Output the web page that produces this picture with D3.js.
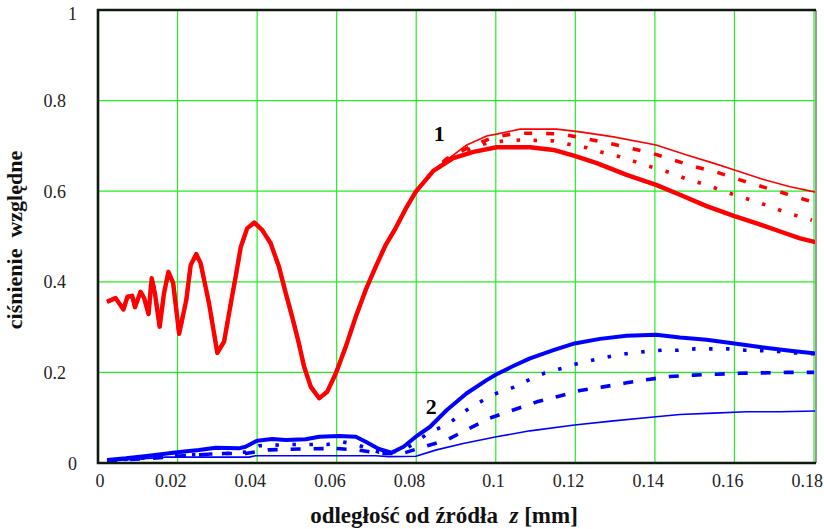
<!DOCTYPE html>
<html>
<head>
<meta charset="utf-8">
<script src="https://cdn.jsdelivr.net/npm/d3@7"></script>
<style>
  body { margin: 0; background: #fff; }
  svg text { font-family: "Liberation Serif", "Times New Roman", "DejaVu Serif", serif !important; }
</style>
</head>
<body>
<div id="chart-container"></div>
<script>
// z [mm] vs relative pressure; curve family 1 (red) and family 2 (blue)
let xTicks = [0, 0.02, 0.04, 0.06, 0.08, 0.1, 0.12, 0.14, 0.16, 0.18];
let yTicks = [0, 0.2, 0.4, 0.6, 0.8, 1];

// part of family 1 where all four variants coincide
let red1Shared = [
  [0.0023, 0.356], [0.0044, 0.364], [0.0064, 0.339], [0.0074, 0.367], [0.0086, 0.369],
  [0.0093, 0.344], [0.0107, 0.378], [0.0116, 0.364], [0.0127, 0.329], [0.0135, 0.408],
  [0.0143, 0.375], [0.0155, 0.301], [0.0166, 0.375], [0.0177, 0.422], [0.0189, 0.397],
  [0.0204, 0.285], [0.0222, 0.360], [0.0233, 0.437], [0.0247, 0.461], [0.0258, 0.441],
  [0.0279, 0.353], [0.0300, 0.243], [0.0317, 0.268], [0.0334, 0.353], [0.0346, 0.411],
  [0.0359, 0.477], [0.0375, 0.518], [0.0393, 0.531], [0.0413, 0.514], [0.0434, 0.485],
  [0.0455, 0.433], [0.0472, 0.375], [0.0488, 0.323], [0.0505, 0.264], [0.0518, 0.213],
  [0.0535, 0.168], [0.0556, 0.143], [0.0576, 0.157], [0.0598, 0.198], [0.0623, 0.257],
  [0.0648, 0.323], [0.0673, 0.382], [0.0698, 0.433], [0.0723, 0.481], [0.0748, 0.518],
  [0.0776, 0.565], [0.0799, 0.599], [0.0843, 0.645]
];
let red1Thick = [
  [0.0893, 0.673], [0.0944, 0.687], [0.1002, 0.697], [0.1086, 0.697], [0.1145, 0.691],
  [0.1198, 0.678], [0.1254, 0.662], [0.1329, 0.636], [0.1403, 0.614], [0.1463, 0.592],
  [0.1530, 0.567], [0.1600, 0.545], [0.1656, 0.529], [0.1715, 0.511], [0.1765, 0.496],
  [0.1810, 0.486]
];
let red1Dot = [
  [0.0902, 0.680], [0.0944, 0.697], [0.0977, 0.706], [0.1019, 0.711], [0.1061, 0.713],
  [0.1145, 0.711], [0.1187, 0.703], [0.1229, 0.696], [0.1275, 0.684], [0.1312, 0.676],
  [0.1354, 0.664], [0.1396, 0.652], [0.1438, 0.641], [0.1480, 0.627], [0.1522, 0.616],
  [0.1564, 0.603], [0.1606, 0.590], [0.1648, 0.579], [0.1690, 0.566], [0.1732, 0.552],
  [0.1773, 0.542], [0.1795, 0.536]
];
let red1Dash = [
  [0.0877, 0.672], [0.0935, 0.698], [0.0994, 0.719], [0.1053, 0.728], [0.1111, 0.728],
  [0.1166, 0.726], [0.1220, 0.717], [0.1279, 0.707], [0.1333, 0.696], [0.1392, 0.684],
  [0.1446, 0.669], [0.1501, 0.654], [0.1559, 0.641], [0.1614, 0.625], [0.1673, 0.609],
  [0.1727, 0.595], [0.1790, 0.578], [0.1805, 0.574]
];
let red1Thin = [
  [0.0877, 0.669], [0.0927, 0.702], [0.0977, 0.722], [0.1002, 0.726], [0.1061, 0.737],
  [0.1153, 0.737], [0.1212, 0.731], [0.1296, 0.720], [0.1403, 0.702], [0.1480, 0.680],
  [0.1547, 0.662], [0.1600, 0.647], [0.1673, 0.626], [0.1740, 0.610], [0.1798, 0.599],
  [0.1815, 0.596]
];

let blue2Thick = [
  [0.0023, 0.0066], [0.0070, 0.0103], [0.0128, 0.0162], [0.0199, 0.0236], [0.0254, 0.0287],
  [0.0296, 0.0338], [0.0354, 0.0324], [0.0371, 0.036], [0.0400, 0.0493], [0.0438, 0.053],
  [0.0472, 0.0508], [0.0522, 0.0523], [0.0556, 0.0581], [0.0606, 0.0596], [0.0648, 0.0581],
  [0.0673, 0.047], [0.0706, 0.0309], [0.0738, 0.0227], [0.0768, 0.036], [0.0799, 0.058],
  [0.0835, 0.080], [0.0877, 0.117], [0.0927, 0.154], [0.0977, 0.183], [0.1002, 0.196],
  [0.1044, 0.214], [0.1086, 0.231], [0.1145, 0.249], [0.1198, 0.264], [0.1262, 0.274],
  [0.1329, 0.281], [0.1403, 0.283], [0.1463, 0.277], [0.1530, 0.272], [0.1600, 0.264],
  [0.1673, 0.255], [0.1740, 0.248], [0.1815, 0.241]
];
let blue2Dot = [
  [0.0023, 0.005], [0.0128, 0.012], [0.0199, 0.017], [0.0254, 0.019], [0.0321, 0.021],
  [0.0371, 0.024], [0.0405, 0.038], [0.0484, 0.041], [0.0576, 0.041], [0.0614, 0.047],
  [0.0652, 0.040], [0.0706, 0.024], [0.0765, 0.026], [0.0807, 0.051], [0.0835, 0.069],
  [0.0877, 0.084], [0.0927, 0.117], [0.0969, 0.139], [0.1002, 0.154], [0.1044, 0.167],
  [0.1082, 0.183], [0.1124, 0.199], [0.1166, 0.209], [0.1208, 0.220], [0.1249, 0.228],
  [0.1291, 0.236], [0.1333, 0.242], [0.1375, 0.246], [0.1417, 0.249], [0.1459, 0.249],
  [0.1501, 0.252], [0.1543, 0.252], [0.1585, 0.252], [0.1627, 0.249], [0.1669, 0.248],
  [0.1711, 0.246], [0.1752, 0.243], [0.1800, 0.241]
];
let blue2Dash = [
  [0.0023, 0.005], [0.0128, 0.010], [0.0199, 0.015], [0.0254, 0.018], [0.0317, 0.021],
  [0.0371, 0.021], [0.0430, 0.029], [0.0505, 0.031], [0.0598, 0.032], [0.0652, 0.029],
  [0.0711, 0.021], [0.0765, 0.021], [0.0820, 0.036], [0.0877, 0.051], [0.0935, 0.077],
  [0.0985, 0.099], [0.1044, 0.117], [0.1103, 0.135], [0.1161, 0.148], [0.1212, 0.160],
  [0.1270, 0.168], [0.1329, 0.177], [0.1388, 0.185], [0.1438, 0.191], [0.1497, 0.194],
  [0.1555, 0.196], [0.1614, 0.198], [0.1673, 0.199], [0.1732, 0.200], [0.1800, 0.200]
];
let blue2Thin = [
  [0.0023, 0.004], [0.0170, 0.013], [0.0380, 0.013], [0.0396, 0.016], [0.0698, 0.016],
  [0.0731, 0.014], [0.0799, 0.015], [0.0851, 0.029], [0.0918, 0.043], [0.1002, 0.058],
  [0.1086, 0.071], [0.1198, 0.084], [0.1296, 0.093], [0.1403, 0.102], [0.1463, 0.107],
  [0.1547, 0.110], [0.1631, 0.113], [0.1715, 0.113], [0.1815, 0.115]
];

let width = 824;
let height = 529;
let serif = '"Liberation Serif", "Times New Roman", "DejaVu Serif", serif';

var svg = d3
  .select("#chart-container")
  .append("svg")
  .attr("width", width)
  .attr("height", height)
  .style("display", "block");

let xScale = d3.scaleLinear().domain([0, 0.18]).range([98, 814]);
let yScale = d3.scaleLinear().domain([0, 1]).range([463, 10]);

svg.append("defs").append("clipPath").attr("id", "plot-clip")
  .append("rect")
  .attr("x", 98).attr("y", 10)
  .attr("width", 718).attr("height", 453);

// Grid
let grid = svg.append("g").attr("stroke", "#22ee22").attr("stroke-width", 1.2);
grid.selectAll(".vgrid")
  .data(xTicks.slice(1))
  .enter()
  .append("line")
  .attr("x1", (d) => xScale(d)).attr("x2", (d) => xScale(d))
  .attr("y1", yScale(1)).attr("y2", yScale(0));
grid.selectAll(".hgrid")
  .data(yTicks.slice(1, -1))
  .enter()
  .append("line")
  .attr("x1", xScale(0)).attr("x2", xScale(0.18) + 2)
  .attr("y1", (d) => yScale(d)).attr("y2", (d) => yScale(d));

// Curves
let line = d3.line().x((d) => xScale(d[0])).y((d) => yScale(d[1]));

let curves = [
  { data: red1Shared.concat(red1Thin), color: "#ff0000", w: 1.6, dash: null },
  { data: red1Shared.concat(red1Dash), color: "#ff0000", w: 3.6, dash: "8,14" },
  { data: red1Shared.concat(red1Dot), color: "#ff0000", w: 3.6, dash: "3.5,13.5" },
  { data: red1Shared.concat(red1Thick), color: "#ff0000", w: 4.4, dash: null },
  { data: blue2Thin, color: "#0000ff", w: 1.6, dash: null },
  { data: blue2Dash, color: "#0000ff", w: 3.6, dash: "10,13" },
  { data: blue2Dot, color: "#0000ff", w: 3.6, dash: "3.5,13.5" },
  { data: blue2Thick, color: "#0000ff", w: 4, dash: null },
];

svg
  .append("g")
  .attr("clip-path", "url(#plot-clip)")
  .selectAll(".curve")
  .data(curves)
  .enter()
  .append("path")
  .attr("class", "curve")
  .attr("d", (d) => line(d.data))
  .attr("fill", "none")
  .attr("stroke", (d) => d.color)
  .attr("stroke-width", (d) => d.w)
  .attr("stroke-dasharray", (d) => d.dash)
  .attr("stroke-linejoin", "round");

// Frame
svg.append("line")
  .attr("x1", xScale(0.18) + 2).attr("x2", xScale(0.18) + 2)
  .attr("y1", yScale(1)).attr("y2", yScale(0))
  .attr("stroke", "#999").attr("stroke-width", 2);
svg.append("path")
  .attr("d", "M" + (xScale(0.18) + 2) + "," + yScale(1) + "H" + xScale(0) +
    "V" + yScale(0) + "H" + (xScale(0.18) + 2))
  .attr("fill", "none")
  .attr("stroke", "#0d1a0d")
  .attr("stroke-width", 2.6);

// Axes
let xAxis = svg
  .append("g")
  .attr("transform", "translate(0," + yScale(0) + ")")
  .call(d3.axisBottom(xScale).tickValues(xTicks).tickSize(0).tickFormat((d) => d));
xAxis.attr("font-family", serif).attr("font-size", 18);
xAxis.select(".domain").remove();
xAxis.selectAll("text")
  .attr("y", 11)
  .attr("x", (d) => (d === 0 ? 6 : 8.5))
  .attr("text-anchor", "end")
  .style("fill", "#222");

let yAxis = svg
  .append("g")
  .attr("transform", "translate(" + xScale(0) + ",0)")
  .call(d3.axisLeft(yScale).tickValues(yTicks).tickSize(0).tickFormat((d) => d));
yAxis.attr("font-family", serif).attr("font-size", 18);
yAxis.select(".domain").remove();
yAxis.selectAll("text")
  .attr("x", (d) => (Number.isInteger(d) ? -21 : -32))
  .attr("dy", (d) => (d === 1 ? "0.55em" : "0.34em"))
  .style("fill", "#222");

// Curve family labels
svg.append("text")
  .attr("x", xScale(0.0858)).attr("y", yScale(0.71))
  .attr("text-anchor", "middle")
  .style("font-size", "22px").style("font-weight", "bold")
  .text("1");
svg.append("text")
  .attr("x", xScale(0.0838)).attr("y", yScale(0.109))
  .attr("text-anchor", "middle")
  .style("font-size", "22px").style("font-weight", "bold")
  .text("2");

// Axis titles
let xTitle = svg.append("text")
  .attr("x", 444).attr("y", 523)
  .attr("text-anchor", "middle")
  .style("font-size", "23px").style("font-weight", "bold").style("fill", "#111")
  .style("white-space", "pre");
xTitle.append("tspan").text("odległość od źródła  ");
xTitle.append("tspan").style("font-style", "italic").text("z");
xTitle.append("tspan").text(" [mm]");

svg.append("text")
  .attr("transform", "translate(22,240) rotate(-90)")
  .attr("text-anchor", "middle")
  .style("font-size", "22px").style("font-weight", "bold").style("fill", "#111")
  .style("white-space", "pre")
  .text("ciśnienie  względne");
</script>
</body>
</html>
